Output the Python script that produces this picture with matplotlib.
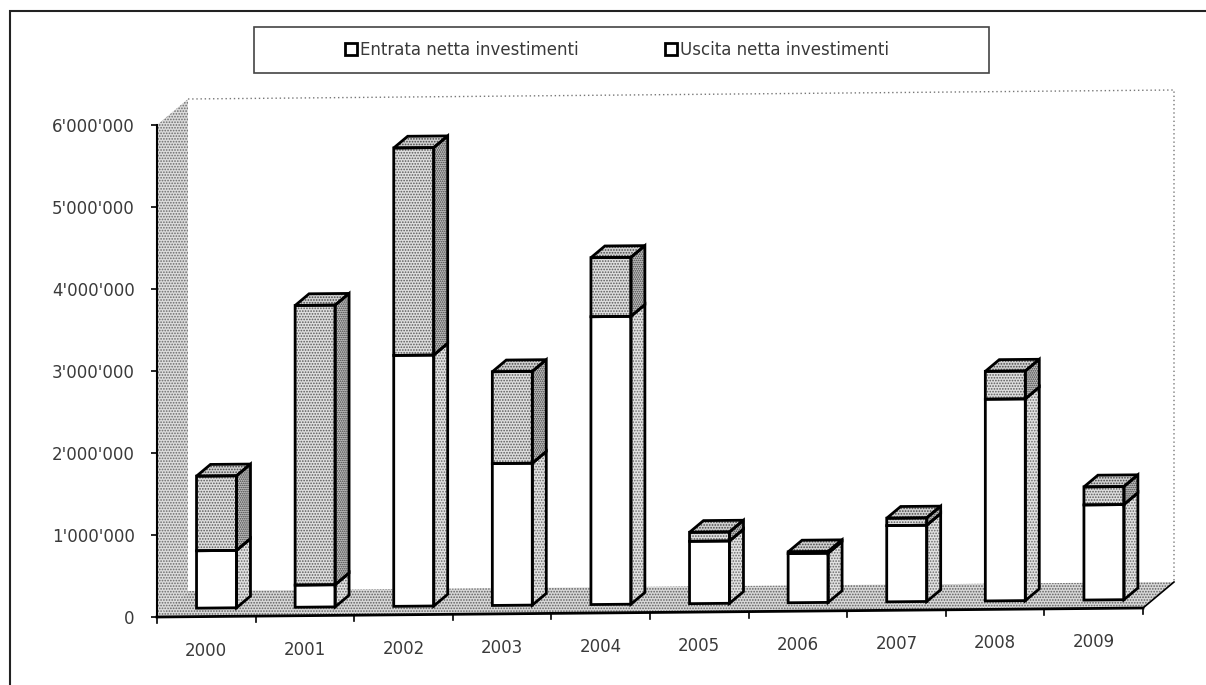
import matplotlib
matplotlib.use("Agg")
import matplotlib.pyplot as plt
from matplotlib.patches import Polygon, Rectangle, Patch
from matplotlib.ticker import FuncFormatter

years = ["2000", "2001", "2002", "2003", "2004", "2005", "2006", "2007", "2008", "2009"]
entrata = [700_000, 270_000, 3_060_000, 1_730_000, 3_510_000, 760_000, 600_000, 930_000, 2_460_000, 1_160_000]
uscita = [910_000, 3_410_000, 2_530_000, 1_120_000, 720_000, 110_000, 20_000, 90_000, 340_000, 220_000]
value_ticks = [0, 1_000_000, 2_000_000, 3_000_000, 4_000_000, 5_000_000, 6_000_000]
labels = ["Entrata netta investimenti", "Uscita netta investimenti"]

plt.rcParams["font.family"] = ["DejaVu Sans"]
plt.rcParams["hatch.linewidth"] = 0.8

W, H = 1206, 685
fig = plt.figure(figsize=(W / 100, H / 100), dpi=100)
ax = fig.add_axes([157 / W, 68 / H, 986 / W, 492 / H])
ax.set_xlim(0, len(years))
ax.set_ylim(0, value_ticks[-1])

# pixel sizes in data units, used for the oblique 3d look
px_x = len(years) / 986
px_y = value_ticks[-1] / 492
DX, DY = 31 * px_x, 26 * px_y     # full depth of the floor
TILT = 0.9 * px_y                 # slight rise of the floor per category
BAR_W = 40 * px_x
D0, D1 = 0.33, 0.78               # bar depth (front, back)


def proj(x, v, d):
    return (x + d * DX, v + d * DY + x * TILT)


def stipple(pts, face, dots, hatch, z):
    ax.add_patch(Polygon(pts, closed=True, facecolor=face, edgecolor=dots, hatch=hatch,
                         linewidth=0, zorder=z, clip_on=False))


def outline(pts, z, lw=2.0):
    ax.add_patch(Polygon(pts, closed=True, fill=False, edgecolor="black", linewidth=lw,
                         joinstyle="miter", zorder=z, clip_on=False))


n = len(years)
top = value_ticks[-1]

# walls and floor
side_wall = [proj(0, 0, 0), proj(0, top, 0), proj(0, top, 1), proj(0, 0, 1)]
stipple(side_wall, "#dcdcdc", "#6a6a6a", "......", 0.5)
floor = [proj(0, 0, 0), proj(n, 0, 0), proj(n, 0, 1), proj(0, 0, 1)]
stipple(floor, "#d8d8d8", "#5f5f5f", "......", 0.6)
back = [proj(0, top, 1), proj(n, top, 1), proj(n, 0, 1)]
ax.plot(*zip(*back), color="#777777", lw=1, ls=(0, (1, 2)), zorder=0.7, clip_on=False)
ax.plot(*zip(proj(n, 0, 0), proj(n, 0, 1)), color="black", lw=1.2, zorder=0.8, clip_on=False)

# bars
for i in range(n):
    x0 = i + 0.5 - BAR_W / 2
    x1 = i + 0.5 + BAR_W / 2
    segs = [(0, entrata[i], "white", "#e2e2e2"),
            (entrata[i], entrata[i] + uscita[i], "#dedede", "#c4c4c4")]
    z = 2 + i * 0.1
    for v0, v1, front_c, side_c in segs:
        front = [proj(x0, v0, D0), proj(x1, v0, D0), proj(x1, v1, D0), proj(x0, v1, D0)]
        side = [proj(x1, v0, D0), proj(x1, v0, D1), proj(x1, v1, D1), proj(x1, v1, D0)]
        if front_c == "white":
            ax.add_patch(Polygon(front, closed=True, facecolor="white", linewidth=0,
                                 zorder=z, clip_on=False))
            stipple(side, side_c, "#6a6a6a", "......", z)
        else:
            stipple(front, front_c, "#5a5a5a", "......", z)
            stipple(side, side_c, "#3a3a3a", "........", z)
        outline(front, z + 0.05)
        outline(side, z + 0.05)
    v = entrata[i] + uscita[i]
    cap = [proj(x0, v, D0), proj(x1, v, D0), proj(x1, v, D1), proj(x0, v, D1)]
    stipple(cap, "#d0d0d0", "#444444", "......", z)
    outline(cap, z + 0.05)

# category axis along the front edge of the floor
ax.plot(*zip(proj(0, 0, 0), proj(n, 0, 0)), color="black", lw=2, zorder=3, clip_on=False)
for i in range(n + 1):
    bx, by = proj(i, 0, 0)
    ax.plot([bx, bx], [by, by - 6 * px_y], color="black", lw=1.2, zorder=3, clip_on=False)
for i, year in enumerate(years):
    ax.annotate(year, xy=proj(i + 0.5, 0, 0), xytext=(0, -24.5), textcoords="offset points",
                ha="center", va="center", fontsize=12, color="#3a3a3a")

# value axis
for s in ["top", "right", "bottom"]:
    ax.spines[s].set_visible(False)
ax.spines["left"].set_linewidth(1.5)
ax.spines["left"].set_zorder(3)
ax.set_xticks([])
ax.set_yticks(value_ticks)
ax.yaxis.set_major_formatter(FuncFormatter(lambda v, p: f"{int(v):,}".replace(",", "'")))
ax.tick_params(axis="y", direction="out", length=4, width=1.2, pad=12,
               labelsize=12, labelcolor="#3a3a3a")
ax.patch.set_visible(False)

# legend and frames
handles = [Patch(facecolor="white", edgecolor="black", linewidth=2) for _ in labels]
fig.legend(handles, labels, loc="center", bbox_to_anchor=(617 / W, 1 - 50 / H), ncol=2,
           frameon=False, fontsize=12, labelcolor="#3a3a3a", handlelength=0.7,
           handleheight=0.7, handletextpad=0.2, columnspacing=5.2)
fig.add_artist(Rectangle((254 / W, 1 - 73 / H), 735 / W, 46 / H, transform=fig.transFigure,
                         fill=False, edgecolor="#444444", lw=1.2))
fig.add_artist(Rectangle((10 / W, -0.1), 1.2, 1.1 - 11 / H, transform=fig.transFigure,
                         fill=False, edgecolor="#222222", lw=1.5))

fig.savefig("out.png", dpi=100)
